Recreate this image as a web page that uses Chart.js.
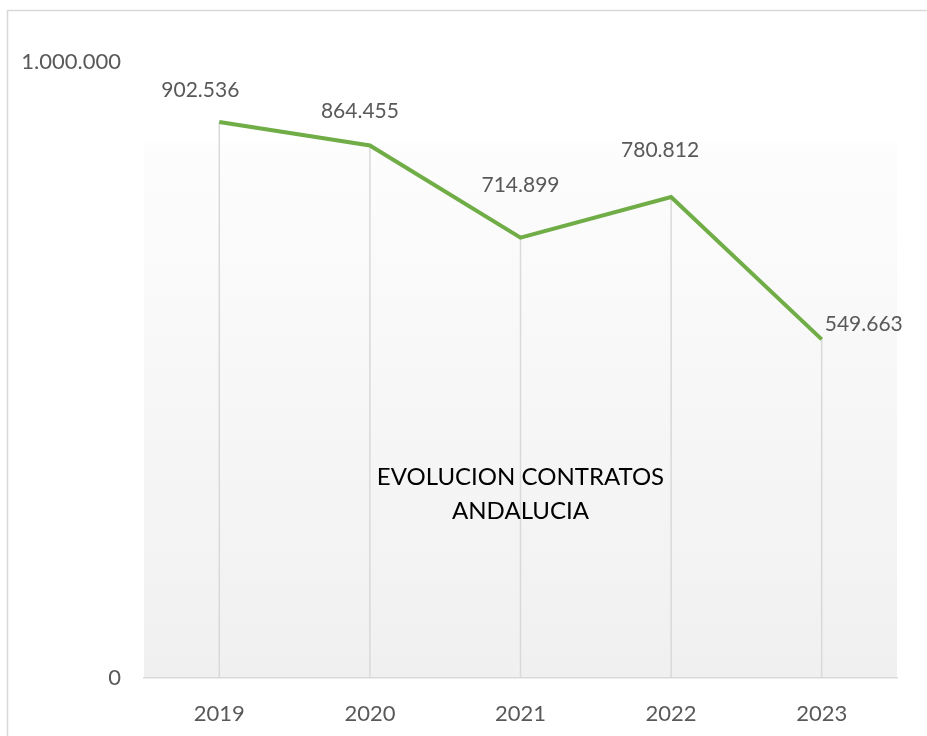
<!DOCTYPE html>
<html>
<head>
<meta charset="utf-8">
<script src="https://cdn.jsdelivr.net/npm/chart.js@4.4.1/dist/chart.umd.min.js"></script>
<style>
  html, body { margin: 0; padding: 0; background: #fff; }
  #wrap { width: 927px; height: 736px; position: relative; }
</style>
</head>
<body>
<div id="wrap"><canvas id="chart"></canvas></div>
<script>
const years = ['2019', '2020', '2021', '2022', '2023'];
const contratos = [902536, 864455, 714899, 780812, 549663];
const yTicks = [0, 1000000];
const chartTitle = ['EVOLUCION CONTRATOS', 'ANDALUCIA'];

const fmt = v => Math.round(v).toString().replace(/\B(?=(\d{3})+(?!\d))/g, '.');

// frame, plot background and drop lines
const decor = {
    id: 'decor',
    beforeDraw(chart) {
        const ctx = chart.ctx;
        const a = chart.chartArea;
        ctx.save();
        ctx.strokeStyle = '#d9d9d9';
        ctx.lineWidth = 1.5;
        ctx.beginPath();
        ctx.moveTo(7.5, 760);
        ctx.lineTo(7.5, 10.5);
        ctx.lineTo(960, 10.5);
        ctx.stroke();

        const top = a.top + 81;
        const g = ctx.createLinearGradient(0, top, 0, a.bottom);
        g.addColorStop(0, '#fdfdfd');
        g.addColorStop(1, '#f0f0f0');
        ctx.fillStyle = g;
        ctx.fillRect(a.left, top, a.right - a.left, a.bottom - top);
        ctx.restore();
    },
    beforeDatasetsDraw(chart) {
        const ctx = chart.ctx;
        const a = chart.chartArea;
        ctx.save();
        ctx.strokeStyle = '#d9d9d9';
        ctx.lineWidth = 1.5;
        chart.getDatasetMeta(0).data.forEach(p => {
            ctx.beginPath();
            ctx.moveTo(p.x, p.y);
            ctx.lineTo(p.x, a.bottom);
            ctx.stroke();
        });
        // title in the middle of the plot
        ctx.fillStyle = '#000';
        ctx.font = '24px Lato';
        ctx.textAlign = 'center';
        ctx.textBaseline = 'middle';
        const cx = (a.left + a.right) / 2;
        chartTitle.forEach((t, i) => ctx.fillText(t, cx, a.top + 415 + i * 34));
        ctx.restore();
    }
};

// value labels, nudged like the original
const labelShift = [[-19, -32], [-10, -34], [0, -52], [-11, -47], [3, -15]];
const valueLabels = {
    id: 'valueLabels',
    afterDatasetsDraw(chart) {
        const ctx = chart.ctx;
        ctx.save();
        ctx.fillStyle = '#595959';
        ctx.font = '21px Lato';
        ctx.textBaseline = 'middle';
        chart.getDatasetMeta(0).data.forEach((p, i) => {
            const [dx, dy] = labelShift[i];
            const last = i === contratos.length - 1;
            ctx.textAlign = last ? 'left' : 'center';
            ctx.fillText(fmt(contratos[i]), p.x + dx, p.y + dy);
        });
        ctx.restore();
    }
};

new Chart(document.getElementById('chart'), {
    type: 'line',
    data: {
        labels: years,
        datasets: [{
            data: contratos,
            borderColor: '#70ad47',
            borderWidth: 4,
            pointRadius: 0,
            tension: 0,
            fill: false
        }]
    },
    options: {
        responsive: true,
        maintainAspectRatio: false,
        animation: false,
        events: [],
        layout: { padding: { top: 62, right: 30, bottom: 0, left: 0 } },
        plugins: { legend: { display: false }, tooltip: { enabled: false } },
        scales: {
            x: {
                offset: true,
                grid: { display: false },
                border: { color: '#d9d9d9', width: 1.5 },
                ticks: { color: '#595959', font: { family: 'Lato', size: 22 }, padding: 15 },
                afterFit: s => { s.height = 58; }
            },
            y: {
                min: 0,
                max: 1000000,
                grid: { display: false },
                border: { display: false },
                afterBuildTicks: s => { s.ticks = yTicks.map(v => ({ value: v })); },
                ticks: {
                    color: '#595959',
                    font: { family: 'Lato', size: 22 },
                    padding: 15,
                    callback: v => fmt(v)
                },
                afterFit: s => { s.width = 144; }
            }
        }
    },
    plugins: [decor, valueLabels]
});
</script>
</body>
</html>
